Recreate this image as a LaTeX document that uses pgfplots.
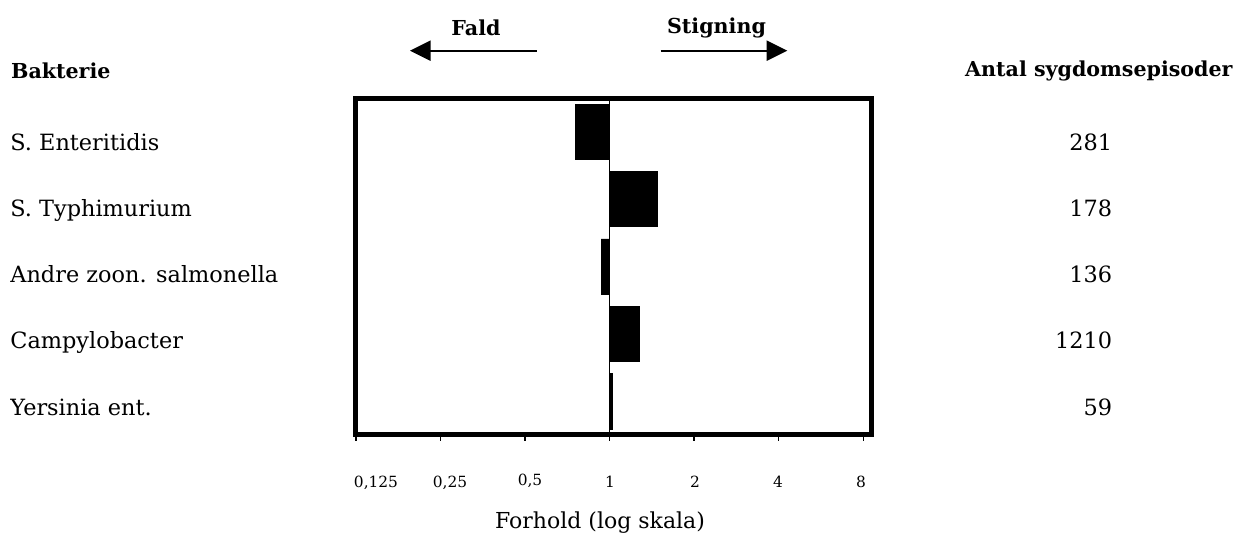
\documentclass[border=0pt]{standalone}
\usepackage{fontspec}
\setmainfont{DejaVu Serif}
\usepackage{pgfplots}
\pgfplotsset{compat=1.18}
\usetikzlibrary{arrows.meta}
\begin{document}
\begin{tikzpicture}
\useasboundingbox (0,0) rectangle (618pt,270.5pt);
\begin{axis}[
  at={(306.625pt,137.25pt)}, anchor=center,
  scale only axis, width=258.25pt, height=168.5pt,
  xmode=log, log basis x=2,
  xmin=0.124, xmax=8.57,
  ymin=0.5, ymax=5.5,
  xtick={0.125,0.25,0.5,1,2,4,8},
  xticklabels=\empty,
  ytick=\empty,
  xtick pos=left,
  tick align=outside,
  major tick length=3pt,
  tick style={black, line width=0.6pt},
  axis line style={line width=2.5pt},
]
\addplot[xbar, bar width=0.82, fill=black, draw=black, line width=0.3pt]
  coordinates {(0.754,5) (1.476,4) (0.933,3) (1.274,2) (1.021,1)};
\addplot[black, line width=0.9pt] coordinates {(1,0.5) (1,5.5)};
\end{axis}
% headers
\node[anchor=base west, inner sep=0pt, font=\fontsize{10.3pt}{12pt}\selectfont\bfseries] at (5.35pt,231.35pt) {Bakterie};
\node[anchor=base east, inner sep=0pt, font=\fontsize{10.3pt}{12pt}\selectfont\bfseries] at (616.5pt,232pt) {Antal sygdomsepisoder};
% categories
\foreach \lab/\num/\yy in {S. Enteritidis/281/195, S. Typhimurium/178/162, Andre zoon. salmonella/136/129, Campylobacter/1210/96, Yersinia ent./59/63}{
  \node[anchor=base west, inner sep=0pt, font=\fontsize{11.2pt}{13pt}\selectfont] at (5pt,\yy pt) {\lab};
  \node[anchor=base east, inner sep=0pt, font=\fontsize{11.2pt}{13pt}\selectfont] at (556.25pt,\yy pt) {\num};
}
% tick labels
\foreach \lab/\xx/\yy in {0{,}125/188/27, 0{,}25/225/27, 0{,}5/265/27.7, 1/305/27, 2/347.5/27, 4/389/27, 8/430.5/27}{
  \node[anchor=base, inner sep=0pt, font=\fontsize{7.7pt}{9pt}\selectfont] at (\xx pt,\yy pt) {\lab};
}
% axis title
\node[anchor=base, inner sep=0pt, font=\fontsize{11pt}{13pt}\selectfont] at (300pt,6.5pt) {Forhold (log skala)};
% direction annotations
\node[anchor=base west, inner sep=0pt, font=\fontsize{10.3pt}{12pt}\selectfont\bfseries] at (225.5pt,252.65pt) {Fald};
\node[anchor=base west, inner sep=0pt, font=\fontsize{10.3pt}{12pt}\selectfont\bfseries] at (333.35pt,253.85pt) {Stigning};
\draw[line width=1pt, -{Triangle[length=10.3pt,width=10pt]}] (268.35pt,245.15pt) -- (205pt,245.15pt);
\draw[line width=1pt, -{Triangle[length=10.3pt,width=10pt]}] (330.35pt,245.15pt) -- (393.65pt,245.15pt);
\end{tikzpicture}
\end{document}
